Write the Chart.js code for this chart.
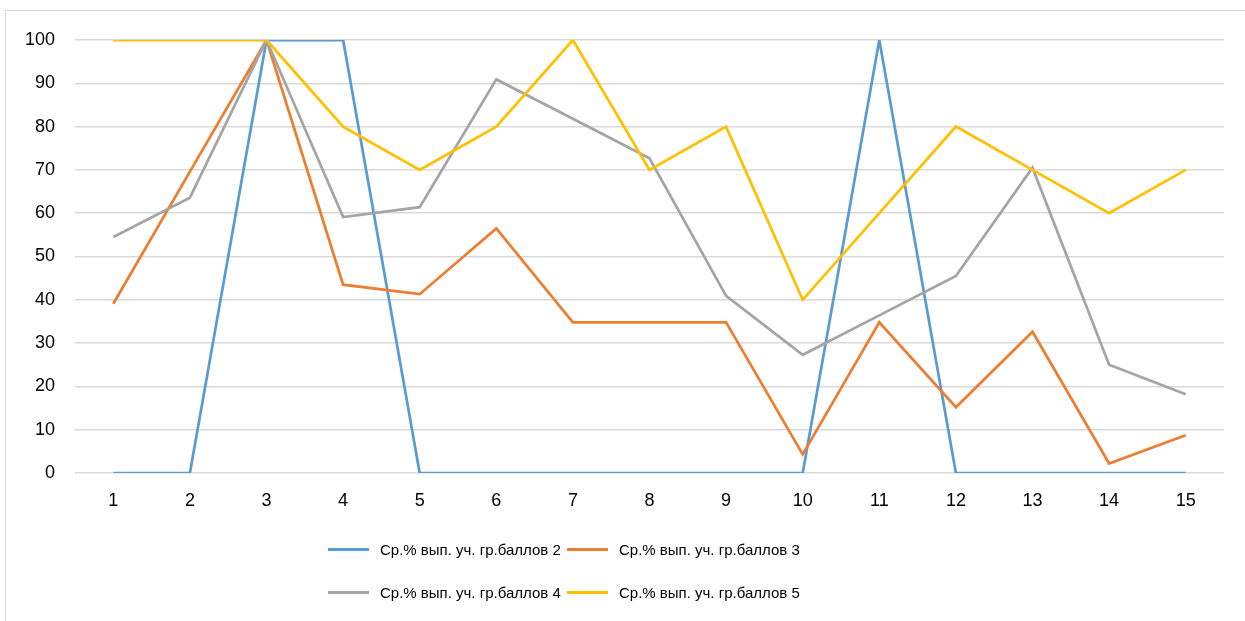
<!DOCTYPE html>
<html>
<head>
<meta charset="utf-8">
<script src="https://cdn.jsdelivr.net/npm/chart.js@4"></script>
<style>
    html, body { margin: 0; padding: 0; background: #fff; overflow: hidden; }
    #frame {
        position: absolute; left: 5px; top: 10px; width: 1260px; height: 640px;
        border-left: 1px solid #d9d9d9; border-top: 1px solid #d9d9d9;
    }
    #wrap { position: absolute; left: 0; top: 0; width: 1245px; height: 621px; }
    #legend {
        position: absolute; left: 328px; top: 537px;
        display: grid; grid-template-columns: 239px 239px; row-gap: 19px;
        font-family: 'Liberation Sans', sans-serif;
        font-size: 15px; color: #000;
    }
    .item { display: flex; align-items: center; height: 24px; white-space: nowrap; }
    .swatch { flex: 0 0 41px; width: 41px; height: 3px; margin-right: 11px; }
</style>
</head>
<body>
<div id="frame"></div>
<div id="wrap"><canvas id="chart" width="1245" height="621"></canvas></div>
<div id="legend"></div>
<script>
// --- данные ---
const categories = ['1', '2', '3', '4', '5', '6', '7', '8', '9', '10', '11', '12', '13', '14', '15'];
const seriesLabels = [
    'Ср.% вып. уч. гр.баллов 2',
    'Ср.% вып. уч. гр.баллов 3',
    'Ср.% вып. уч. гр.баллов 4',
    'Ср.% вып. уч. гр.баллов 5'
];
const scores2 = [0, 0, 100, 100, 0, 0, 0, 0, 0, 0, 100, 0, 0, 0, 0];
const scores3 = [39.1, 69.6, 100, 43.5, 41.3, 56.5, 34.8, 34.8, 34.8, 4.3, 34.8, 15.2, 32.6, 2.2, 8.7];
const scores4 = [54.5, 63.6, 100, 59.1, 61.4, 90.9, 81.8, 72.7, 40.9, 27.3, 36.4, 45.5, 70.5, 25.0, 18.2];
const scores5 = [100, 100, 100, 80, 70, 80, 100, 70, 80, 40, 60, 80, 70, 60, 70];
const colors = ['#5b9bd5', '#ed7d31', '#a5a5a5', '#ffc000'];

const allSeries = [scores2, scores3, scores4, scores5];

// --- график ---
const ctx = document.getElementById('chart').getContext('2d');
const chart = new Chart(ctx, {
    type: 'line',
    data: {
        labels: categories,
        datasets: allSeries.map((values, i) => ({
            label: seriesLabels[i],
            data: values,
            borderColor: colors[i],
            backgroundColor: colors[i],
            borderWidth: 2.75,
            pointRadius: 0,
            tension: 0,
            order: allSeries.length - 1 - i // как в Excel: последняя серия сверху
        }))
    },
    options: {
        responsive: false,
        animation: false,
        layout: { padding: { left: 20, right: 21, top: 40, bottom: 98 } },
        plugins: {
            legend: { display: false },
            tooltip: { enabled: false }
        },
        scales: {
            x: {
                offset: true,
                grid: { display: false },
                border: { display: false },
                ticks: {
                    color: '#000',
                    font: { family: 'Liberation Sans', size: 18 },
                    padding: 9,
                    maxRotation: 0
                },
                afterFit: (scale) => { scale.height = 50; }
            },
            y: {
                min: 0,
                max: 100,
                grid: { color: '#d9d9d9', lineWidth: 1.5, drawTicks: false },
                border: { display: false },
                ticks: {
                    stepSize: 10,
                    color: '#000',
                    font: { family: 'Liberation Sans', size: 18 },
                    padding: 20
                },
                afterFit: (scale) => { scale.width = 55; }
            }
        }
    }
});

// --- легенда ---
const legend = document.getElementById('legend');
seriesLabels.forEach((text, i) => {
    const item = document.createElement('div');
    item.className = 'item';
    const swatch = document.createElement('span');
    swatch.className = 'swatch';
    swatch.style.background = colors[i];
    const label = document.createElement('span');
    label.textContent = text;
    item.appendChild(swatch);
    item.appendChild(label);
    legend.appendChild(item);
});
</script>
</body>
</html>
